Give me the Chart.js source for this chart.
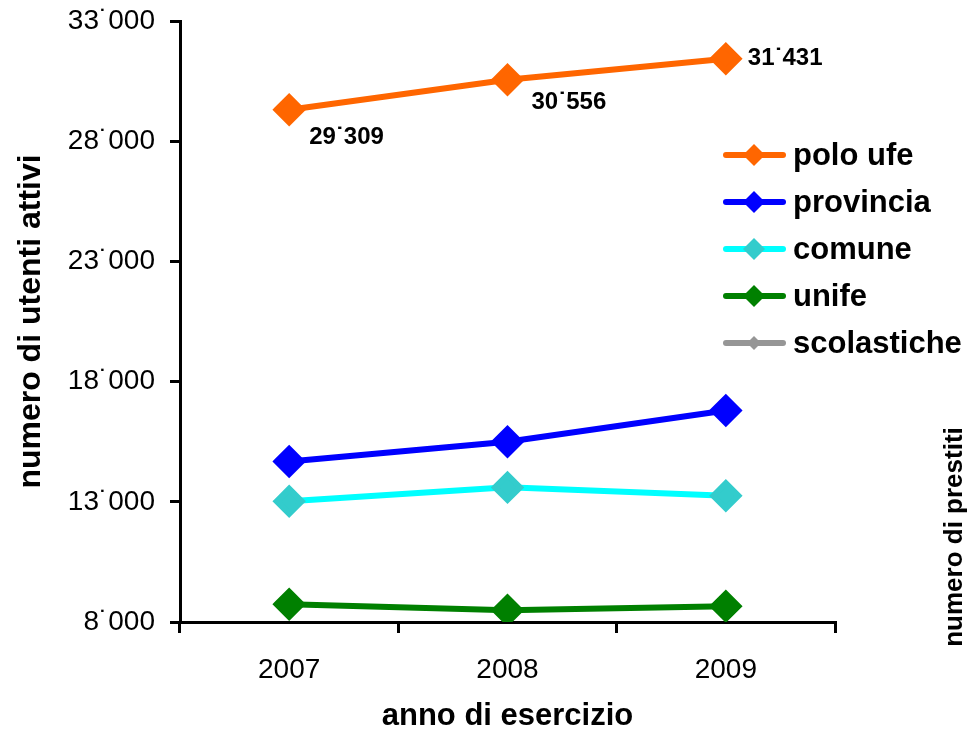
<!DOCTYPE html>
<html>
<head>
<meta charset="utf-8">
<script src="https://cdn.jsdelivr.net/npm/chart.js@4"></script>
<style>
  body { margin: 0; background: #fff; }
  canvas { display: block; }
</style>
</head>
<body>
<canvas id="chart" width="967" height="735"></canvas>
<script>
const years = ['2007', '2008', '2009'];
const seriesNames = ['polo ufe', 'provincia', 'comune', 'unife', 'scolastiche'];
const poloUfe = [29309, 30556, 31431];
const provincia = [14680, 15500, 16800];
const comune = [13020, 13600, 13250];
const unife = [8740, 8490, 8660];
const scolastiche = [null, null, null];
const yTicks = [8000, 13000, 18000, 23000, 28000, 33000];

const FONT = "'Liberation Sans', Arial, sans-serif";

// numbers like 29˙309
const fmt = v => String(v).replace(/\B(?=(\d{3})+(?!\d))/g, '\u02D9');

const lineColors = ['#FF6600', '#0000FF', '#00FFFF', '#008000', '#969696'];
const markColors = ['#FF6600', '#0000FF', '#33CCCC', '#008000', '#969696'];
const seriesData = [poloUfe, provincia, comune, unife, scolastiche];

const datasets = seriesNames.map((name, i) => ({
  label: name,
  data: seriesData[i],
  borderColor: lineColors[i],
  backgroundColor: markColors[i],
  pointBackgroundColor: markColors[i],
  pointBorderColor: markColors[i],
  borderWidth: 6,
  pointStyle: 'rectRot',
  pointRadius: i === 4 ? 7 : 12.5,
  pointHoverRadius: 12.5,
  tension: 0,
  spanGaps: false
}));

// labels for the polo ufe points
const valueLabels = {
  id: 'valueLabels',
  afterDatasetsDraw(chart) {
    const ctx = chart.ctx;
    const pts = chart.getDatasetMeta(0).data;
    const offs = [[20, 28], [24, 23], [22, 0]];
    ctx.save();
    ctx.font = 'bold 24px ' + FONT;
    ctx.fillStyle = '#000';
    ctx.textBaseline = 'middle';
    ctx.textAlign = 'left';
    pts.forEach((p, i) => {
      ctx.fillText(fmt(poloUfe[i]), p.x + offs[i][0], p.y + offs[i][1]);
    });
    ctx.restore();
  }
};

// legend drawn over the right side of the plot
const sideLegend = {
  id: 'sideLegend',
  afterDraw(chart) {
    const ctx = chart.ctx;
    ctx.save();
    ctx.font = 'bold 31px ' + FONT;
    ctx.textBaseline = 'middle';
    chart.data.datasets.forEach((ds, i) => {
      const y = 155 + i * 47;
      ctx.strokeStyle = ds.borderColor;
      ctx.lineWidth = 6;
      ctx.lineCap = 'round';
      ctx.beginPath();
      ctx.moveTo(726, y);
      ctx.lineTo(783, y);
      ctx.stroke();
      const r = i === 4 ? 7 : 11;
      ctx.fillStyle = ds.pointBackgroundColor;
      ctx.beginPath();
      ctx.moveTo(754, y - r);
      ctx.lineTo(754 + r, y);
      ctx.lineTo(754, y + r);
      ctx.lineTo(754 - r, y);
      ctx.closePath();
      ctx.fill();
      ctx.fillStyle = '#000';
      ctx.fillText(ds.label, 793, y + 1);
    });
    // secondary axis title
    ctx.translate(955, 537);
    ctx.rotate(-Math.PI / 2);
    ctx.font = 'bold 26px ' + FONT;
    ctx.textAlign = 'center';
    ctx.fillText('numero di prestiti', 0, 0);
    ctx.restore();
  }
};

new Chart(document.getElementById('chart'), {
  type: 'line',
  data: { labels: years, datasets },
  options: {
    responsive: false,
    devicePixelRatio: 1,
    animation: false,
    layout: { padding: { top: 21, right: 132, bottom: 0, left: 0 } },
    plugins: {
      legend: { display: false },
      tooltip: { enabled: false }
    },
    scales: {
      x: {
        offset: true,
        afterFit(scale) { scale.height = 113; },
        grid: {
          offset: true,
          drawOnChartArea: false,
          drawTicks: true,
          tickLength: 11,
          color: '#000',
          lineWidth: 3
        },
        border: { color: '#000', width: 3 },
        ticks: {
          color: '#000',
          padding: 20,
          font: { family: FONT, size: 28 }
        },
        title: {
          display: true,
          text: 'anno di esercizio',
          color: '#000',
          padding: { top: 0, bottom: 0 },
          font: { family: FONT, size: 31, weight: 'bold' }
        }
      },
      y: {
        min: 8000,
        max: 33000,
        afterFit(scale) {
          scale.width = 180;
          scale.paddingTop = 0;
          scale.paddingBottom = 0;
        },
        afterBuildTicks(scale) { scale.ticks = yTicks.map(v => ({ value: v })); },
        grid: {
          drawOnChartArea: false,
          tickLength: 10,
          color: '#000',
          lineWidth: 3
        },
        border: { color: '#000', width: 3 },
        ticks: {
          color: '#000',
          padding: 15,
          font: { family: FONT, size: 28 },
          callback: v => fmt(v)
        },
        title: {
          display: true,
          text: 'numero di utenti attivi',
          color: '#000',
          padding: { top: 12, bottom: 0 },
          font: { family: FONT, size: 32, weight: 'bold' }
        }
      }
    }
  },
  plugins: [valueLabels, sideLegend]
});
</script>
</body>
</html>
